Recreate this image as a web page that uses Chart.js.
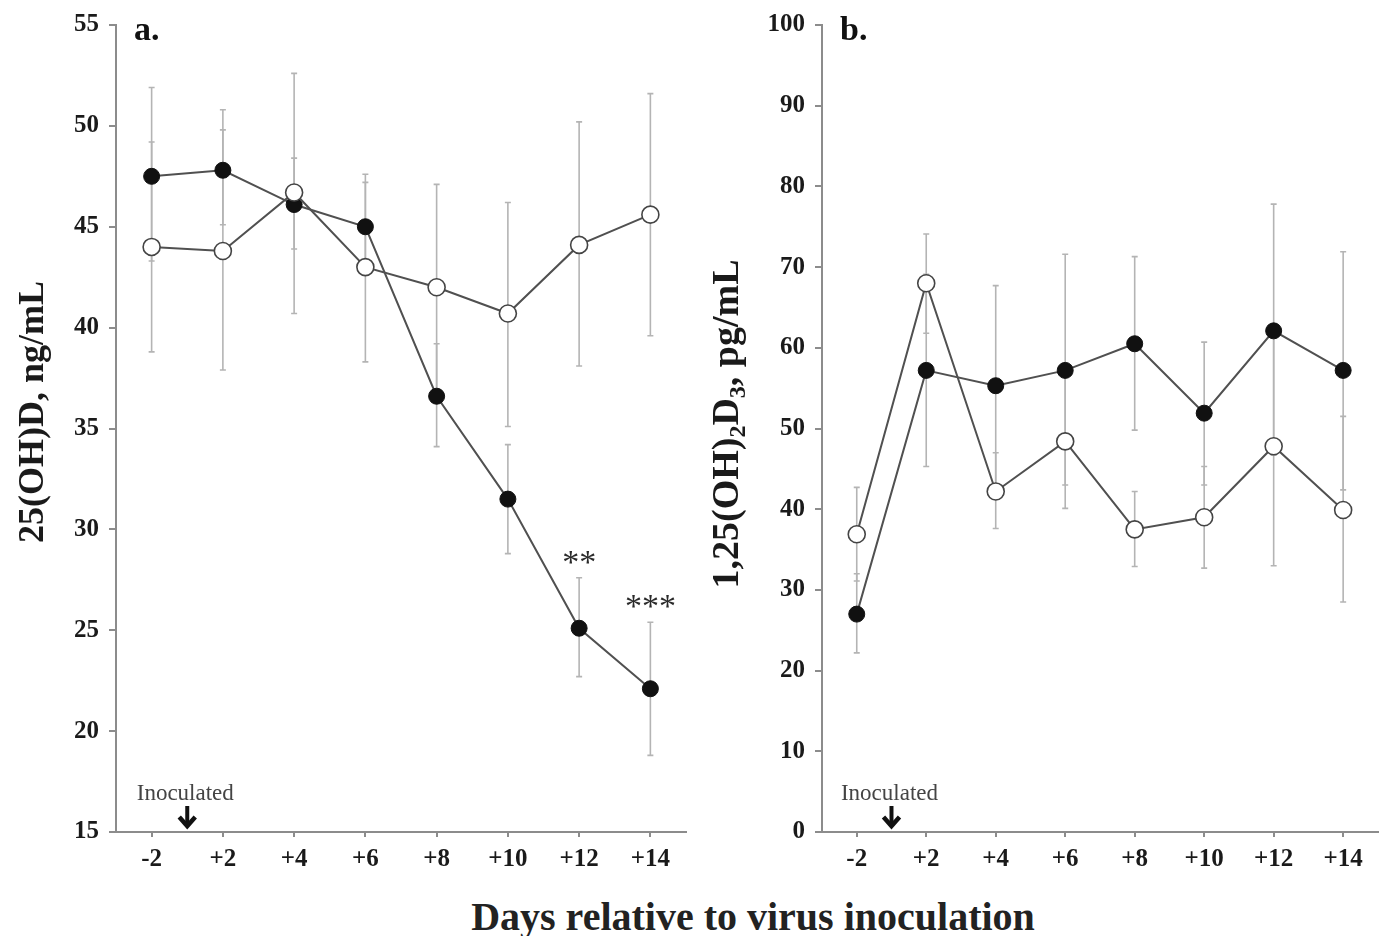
<!DOCTYPE html>
<html>
<head>
<meta charset="utf-8">
<script src="https://cdn.jsdelivr.net/npm/chart.js@4.4.6/dist/chart.umd.min.js"></script>
<style>
  body { margin: 0; background: #fff; width: 1388px; height: 936px; position: relative; overflow: hidden; }
  #wrapA { position: absolute; left: 0; top: 0; width: 700px; height: 882px; }
  #wrapB { position: absolute; left: 690px; top: 0; width: 698px; height: 882px; }
  #xTitle { position: absolute; left: 0; width: 1506px; top: 893px; line-height: 40px; text-align: center;
    font: bold 40px "Liberation Serif", serif; color: #222; }
</style>
</head>
<body>
<div id="wrapA"><canvas id="chartA"></canvas></div>
<div id="wrapB"><canvas id="chartB"></canvas></div>
<div id="xTitle">Days relative to virus inoculation</div>
<script>
// x categories (days)
const days = ['-2', '+2', '+4', '+6', '+8', '+10', '+12', '+14'];

// panel a: 25(OH)D, ng/mL
const aFilled   = [47.5, 47.8, 46.1, 45.0, 36.6, 31.5, 25.1, 22.1];
const aFilledLo = [43.3, 45.1, 43.9, 42.8, 34.1, 28.8, 22.7, 18.8];
const aFilledHi = [51.9, 49.8, 48.4, 47.2, 39.2, 34.2, 27.6, 25.4];
const aOpen     = [44.0, 43.8, 46.7, 43.0, 42.0, 40.7, 44.1, 45.6];
const aOpenLo   = [38.8, 37.9, 40.7, 38.3, 36.9, 35.1, 38.1, 39.6];
const aOpenHi   = [49.2, 50.8, 52.6, 47.6, 47.1, 46.2, 50.2, 51.6];
const aStars    = ['', '', '', '', '', '', '**', '***'];
// y title pieces: [text, subscript?]
const aTitle = [['25(OH)D, ng/mL', false]];

// panel b: 1,25(OH)2D3, pg/mL
const bFilled   = [27.0, 57.2, 55.3, 57.2, 60.5, 51.9, 62.1, 57.2];
const bFilledLo = [22.2, 45.3, 42.9, 43.0, 49.8, 43.0, 46.7, 42.4];
const bFilledHi = [32.0, 69.1, 67.7, 71.6, 71.3, 60.7, 77.8, 71.9];
const bOpen     = [36.9, 68.0, 42.2, 48.4, 37.5, 39.0, 47.8, 39.9];
const bOpenLo   = [31.1, 61.8, 37.6, 40.1, 32.9, 32.7, 33.0, 28.5];
const bOpenHi   = [42.7, 74.1, 47.0, 56.7, 42.2, 45.3, 62.6, 51.5];
const bTitle = [['1,25(OH)', false], ['2', true], ['D', false], ['3', true], [', pg/mL', false]];

const serif = '"Liberation Serif", "Times New Roman", serif';
const axisGrey = '#8c8c8c';
const lineGrey = '#505050';
const barGrey = '#b4b4b4';

/* error bars, drawn under the lines */
const errorBars = {
  id: 'errorBars',
  beforeDatasetsDraw(chart) {
    const ctx = chart.ctx;
    const y = chart.scales.y;
    ctx.save();
    ctx.strokeStyle = barGrey;
    ctx.lineWidth = 1.6;
    chart.data.datasets.forEach((ds, di) => {
      const meta = chart.getDatasetMeta(di);
      meta.data.forEach((pt, i) => {
        const top = y.getPixelForValue(ds.hi[i]);
        const bot = y.getPixelForValue(ds.lo[i]);
        ctx.beginPath();
        ctx.moveTo(pt.x, top); ctx.lineTo(pt.x, bot);
        ctx.moveTo(pt.x - 3, top); ctx.lineTo(pt.x + 3, top);
        ctx.moveTo(pt.x - 3, bot); ctx.lineTo(pt.x + 3, bot);
        ctx.stroke();
      });
    });
    ctx.restore();
  }
};

/* panel letter, y title, "Inoculated" arrow and significance stars */
const extras = {
  id: 'extras',
  afterDraw(chart, args, opts) {
    const ctx = chart.ctx;
    const x = chart.scales.x, y = chart.scales.y;
    const area = chart.chartArea;
    ctx.save();
    // panel letter
    ctx.fillStyle = '#111';
    ctx.font = 'bold 34px ' + serif;
    ctx.textBaseline = 'middle';
    ctx.textAlign = 'left';
    ctx.fillText(opts.letter, area.left + 18, area.top + 6);

    // rotated y title with subscripts
    const big = 'bold ' + opts.titleSize + 'px ' + serif, small = 'bold 24px ' + serif;
    let total = 0;
    opts.title.forEach(([t, sub]) => { ctx.font = sub ? small : big; total += ctx.measureText(t).width; });
    ctx.save();
    ctx.translate(opts.titleX, opts.titleY);
    ctx.rotate(-Math.PI / 2);
    ctx.textBaseline = 'alphabetic';
    ctx.fillStyle = '#1a1a1a';
    let pos = -total / 2;
    opts.title.forEach(([t, sub]) => {
      ctx.font = sub ? small : big;
      ctx.fillText(t, pos, sub ? 7 : 0);
      pos += ctx.measureText(t).width;
    });
    ctx.restore();

    // inoculation mark between first two days
    const xm = (x.getPixelForValue(0) + x.getPixelForValue(1)) / 2;
    ctx.fillStyle = '#444';
    ctx.font = '23px ' + serif;
    ctx.textAlign = 'center';
    ctx.textBaseline = 'middle';
    ctx.fillText('Inoculated', xm - 2, area.bottom - 38);
    ctx.strokeStyle = '#111';
    ctx.lineWidth = 4;
    ctx.beginPath();
    ctx.moveTo(xm, area.bottom - 26);
    ctx.lineTo(xm, area.bottom - 7);
    ctx.stroke();
    ctx.lineWidth = 4.5;
    ctx.lineJoin = 'miter';
    ctx.beginPath();
    ctx.moveTo(xm - 8, area.bottom - 15);
    ctx.lineTo(xm, area.bottom - 6);
    ctx.lineTo(xm + 8, area.bottom - 15);
    ctx.stroke();

    // stars above the filled series' upper bars
    if (opts.stars) {
      const ds = chart.data.datasets[1];
      const meta = chart.getDatasetMeta(1);
      ctx.fillStyle = '#2a2a2a';
      ctx.font = '34px ' + serif;
      ctx.textBaseline = 'middle';
      opts.stars.forEach((s, i) => {
        if (!s) return;
        ctx.fillText(s, meta.data[i].x, y.getPixelForValue(ds.hi[i]) - 14);
      });
    }
    ctx.restore();
  }
};

function makeChart(id, open, openLo, openHi, filled, filledLo, filledHi, yMin, yMax, yStep, title, titleSize, titleX, titleY, yWidth, padRight, letter, stars) {
  return new Chart(document.getElementById(id), {
    type: 'line',
    data: {
      labels: days,
      datasets: [
        {
          label: 'open',
          data: open, lo: openLo, hi: openHi,
          borderColor: lineGrey, borderWidth: 2,
          pointRadius: 8.5, pointBackgroundColor: '#fff',
          pointBorderColor: '#444', pointBorderWidth: 1.6,
          tension: 0
        },
        {
          label: 'filled',
          data: filled, lo: filledLo, hi: filledHi,
          borderColor: lineGrey, borderWidth: 2,
          pointRadius: 8, pointBackgroundColor: '#111',
          pointBorderColor: '#111', pointBorderWidth: 1,
          tension: 0
        }
      ]
    },
    options: {
      responsive: true,
      maintainAspectRatio: false,
      animation: false,
      layout: { padding: { left: 0, right: padRight, top: 6, bottom: 0 } },
      plugins: {
        legend: { display: false },
        tooltip: { enabled: false },
        extras: { letter: letter, stars: stars, title: title, titleSize: titleSize, titleX: titleX, titleY: titleY }
      },
      scales: {
        x: {
          offset: true,
          grid: { drawOnChartArea: false, color: axisGrey, lineWidth: 2, tickLength: 5 },
          border: { color: axisGrey, width: 2 },
          ticks: { color: '#1a1a1a', font: { family: serif, size: 25, weight: 'bold' }, padding: 8, maxRotation: 0 },
          afterFit: (s) => { s.height = 50; }
        },
        y: {
          min: yMin, max: yMax,
          grid: { drawOnChartArea: false, color: axisGrey, lineWidth: 2, tickLength: 7 },
          border: { color: axisGrey, width: 2 },
          ticks: { stepSize: yStep, color: '#1a1a1a', font: { family: serif, size: 25, weight: 'bold' }, padding: 10 },
          afterFit: (s) => { s.width = yWidth; }
        }
      }
    },
    plugins: [errorBars, extras]
  });
}

makeChart('chartA', aOpen, aOpenLo, aOpenHi, aFilled, aFilledLo, aFilledHi,
  15, 55, 5, aTitle, 36, 43, 412, 116, 14, 'a.', aStars);
makeChart('chartB', bOpen, bOpenLo, bOpenHi, bFilled, bFilledLo, bFilledHi,
  0, 100, 10, bTitle, 38, 48, 424, 132, 8, 'b.', null);
</script>
</body>
</html>
